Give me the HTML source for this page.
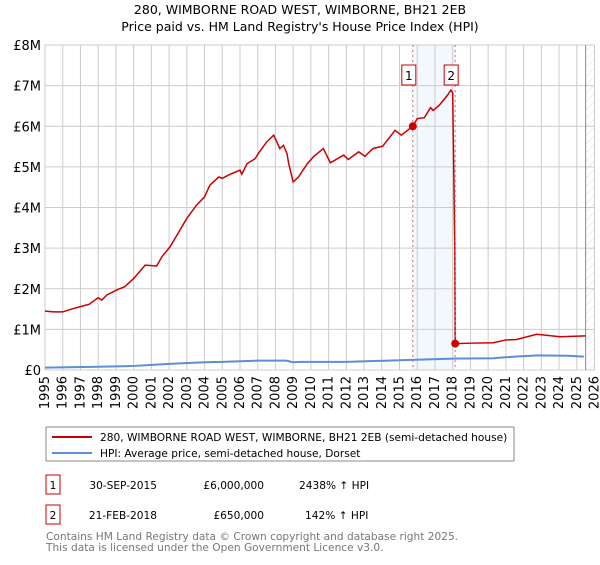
<!DOCTYPE html>
<html><head><meta charset="utf-8"><style>
body{margin:0;background:#fff;font-family:"Liberation Sans","DejaVu Sans",sans-serif;}
svg text{font-family:"DejaVu Sans","Liberation Sans",sans-serif;}
</style></head><body>
<svg id="c" width="600" height="560" xmlns="http://www.w3.org/2000/svg">
<defs><pattern id="hatch" width="6" height="6" patternUnits="userSpaceOnUse" patternTransform="rotate(45)"><line x1="0" y1="0" x2="0" y2="6" stroke="#ddd" stroke-width="1"/></pattern></defs>
<text x="300" y="14" text-anchor="middle" font-size="12.5">280, WIMBORNE ROAD WEST, WIMBORNE, BH21 2EB</text>
<text x="300" y="31" text-anchor="middle" font-size="12.5">Price paid vs. HM Land Registry's House Price Index (HPI)</text>
<g id="plot"></g>
<g>
<rect x="46" y="427" width="468" height="34" fill="#fff" stroke="#888"/>
<line x1="52" y1="437" x2="92" y2="437" stroke="#cc0000" stroke-width="2"/>
<text x="100" y="441" font-size="10.6">280, WIMBORNE ROAD WEST, WIMBORNE, BH21 2EB (semi-detached house)</text>
<line x1="52" y1="453" x2="92" y2="453" stroke="#5b8fd6" stroke-width="2"/>
<text x="100" y="457" font-size="10.6">HPI: Average price, semi-detached house, Dorset</text>
</g>
<g font-size="10.6">
<rect x="46" y="475" width="14" height="19" fill="#fff" stroke="#cc0000"/><text x="53" y="489" text-anchor="middle">1</text>
<text x="157" y="489" text-anchor="end">30-SEP-2015</text><text x="264" y="489" text-anchor="end">£6,000,000</text><text x="299" y="489">2438% ↑ HPI</text>
<rect x="46" y="505" width="14" height="19" fill="#fff" stroke="#cc0000"/><text x="53" y="519" text-anchor="middle">2</text>
<text x="157" y="519" text-anchor="end">21-FEB-2018</text><text x="264" y="519" text-anchor="end">£650,000</text><text x="305" y="519">142% ↑ HPI</text>
</g>
<text x="46" y="540" font-size="10.6" fill="#777">Contains HM Land Registry data © Crown copyright and database right 2025.</text>
<text x="46" y="551" font-size="10.6" fill="#777">This data is licensed under the Open Government Licence v3.0.</text>
</svg>
<script>
const years=[1995,1996,1997,1998,1999,2000,2001,2002,2003,2004,2005,2006,2007,2008,2009,2010,2011,2012,2013,2014,2015,2016,2017,2018,2019,2020,2021,2022,2023,2024,2025,2026];
const yTicks=[0,1,2,3,4,5,6,7,8];
const yLabels=["£0","£1M","£2M","£3M","£4M","£5M","£6M","£7M","£8M"];
const redX=[1995,1995.5,1996,1996.5,1997,1997.5,1998,1998.2,1998.5,1999.05,1999.5,2000,2000.65,2001.3,2001.6,2002.05,2002.5,2003,2003.55,2004,2004.3,2004.8,2005,2005.45,2006,2006.1,2006.4,2006.85,2007.05,2007.5,2007.9,2008.25,2008.45,2008.65,2008.75,2009,2009.3,2009.8,2010.15,2010.7,2011.1,2011.85,2012.1,2012.7,2013.05,2013.5,2014.05,2014.75,2015.1,2015.75,2016,2016.4,2016.75,2016.9,2017.25,2017.7,2017.9,2018.0,2018.12,2018.14,2019,2020.3,2021,2021.6,2022.75,2024.05,2025.5];
const redV=[1.45,1.43,1.43,1.5,1.56,1.62,1.78,1.72,1.85,1.97,2.05,2.25,2.58,2.56,2.79,3.03,3.36,3.73,4.06,4.26,4.55,4.75,4.72,4.82,4.92,4.82,5.08,5.2,5.34,5.61,5.78,5.45,5.53,5.33,5.08,4.63,4.75,5.08,5.25,5.45,5.1,5.29,5.18,5.37,5.26,5.45,5.51,5.9,5.78,6.0,6.19,6.21,6.46,6.39,6.52,6.76,6.89,6.82,3.0,0.65,0.66,0.67,0.74,0.75,0.88,0.82,0.84];
const hpiX=[1995,1998,2000,2002,2004,2005,2007,2008.6,2009,2009.4,2012,2015,2018,2020.3,2021.5,2022.8,2024.5,2025.4];
const hpiV=[0.057,0.08,0.1,0.15,0.19,0.2,0.23,0.23,0.19,0.2,0.2,0.24,0.28,0.29,0.33,0.36,0.35,0.33];
const saleX=[2015.75,2018.14];
const saleV=[6.0,0.65];
const saleLabels=["1","2"];
const X0=45,X1=594.5,Y0=370,Y1=45;
const sx=y=>X0+(y-1995)/(2026-1995)*(X1-X0);
const sy=v=>Y0-v/8*(Y0-Y1);
const NS="http://www.w3.org/2000/svg";
const g=document.getElementById('plot');
function mk(t,a,p){const e=document.createElementNS(NS,t);for(const k in a)e.setAttribute(k,a[k]);(p||g).appendChild(e);return e;}
let e;
e=mk('rect',{x:sx(saleX[0]),y:Y1,width:sx(saleX[1])-sx(saleX[0]),height:Y0-Y1,fill:'#f3f7fe'});


e=mk('rect',{x:sx(2025.5),y:Y1,width:X1-sx(2025.5),height:Y0-Y1,fill:'url(#hatch)'});


years.forEach(y=>{e=mk('line',{x1:sx(y),x2:sx(y),y1:Y1,y2:Y0,stroke:'#ccc'});


e=mk('text',{transform:`translate(${sx(y)+4},${Y0+6}) rotate(-90)`,'text-anchor':'end','font-size':'13'});e.textContent=y;

});
yTicks.forEach((v,i)=>{e=mk('line',{x1:X0,x2:X1,y1:sy(v),y2:sy(v),stroke:'#ccc'});


e=mk('text',{x:X0-4,y:sy(v)+5,'text-anchor':'end','font-size':'13'});e.textContent=yLabels[i];

});
e=mk('line',{x1:sx(2025.5),x2:sx(2025.5),y1:Y1,y2:Y0,stroke:'#888'});


e=mk('polyline',{points:hpiX.map((x,i)=>sx(x)+','+sy(hpiV[i])).join(' '),fill:'none',stroke:'#5b8fd6','stroke-width':2});


e=mk('polyline',{points:redX.map((x,i)=>sx(x)+','+sy(redV[i])).join(' '),fill:'none',stroke:'#cc0000','stroke-width':1.5});


saleX.forEach((x,i)=>{
e=mk('line',{x1:sx(x),x2:sx(x),y1:Y1,y2:Y0,stroke:'#e06666','stroke-dasharray':'2,3'});


e=mk('circle',{cx:sx(x),cy:sy(saleV[i]),r:4,fill:'#cc0000'});


e=mk('rect',{x:sx(x)-11,y:65,width:14,height:20,fill:'#fff',stroke:'#cc0000'});


e=mk('text',{x:sx(x)-4,y:80,'text-anchor':'middle','font-size':'12'});e.textContent=saleLabels[i];


});
</script>
</body></html>
